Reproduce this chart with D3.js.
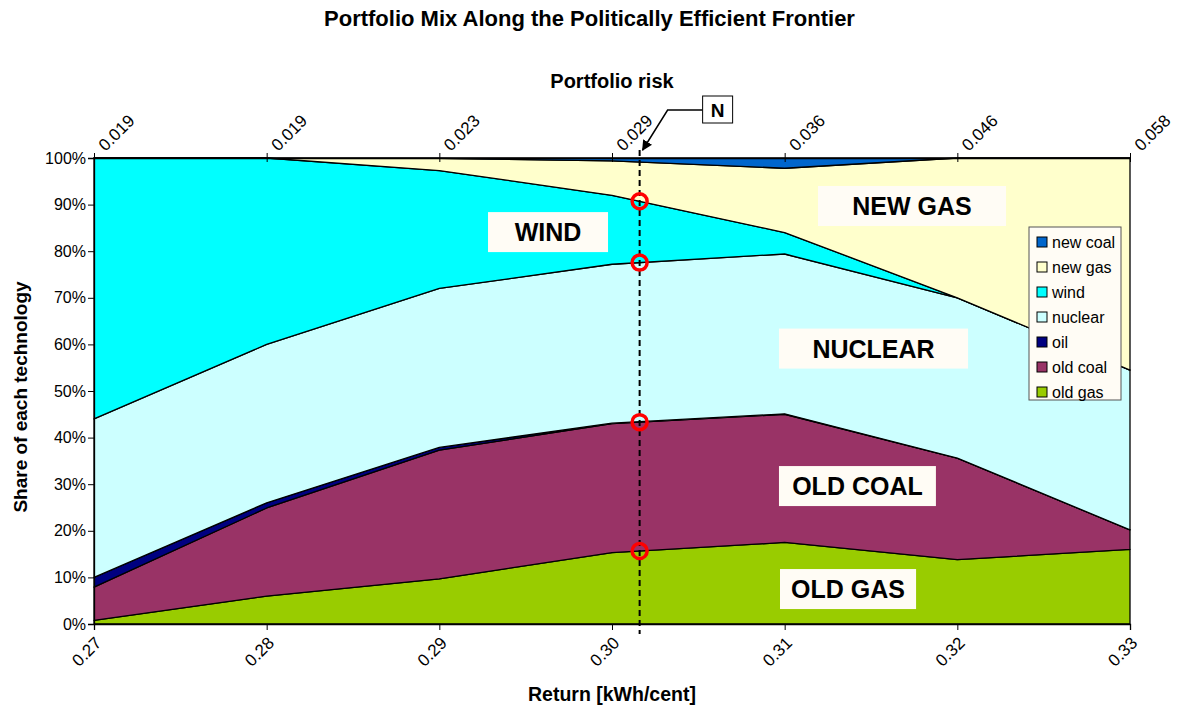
<!DOCTYPE html>
<html>
<head>
<meta charset="utf-8">
<script src="https://cdn.jsdelivr.net/npm/d3@7"></script>
<style>
  body { margin: 0; background: #fff; }
  svg { display: block; font-family: "Liberation Sans", Arial, sans-serif; }
</style>
</head>
<body>
<svg id="svg" width="1179" height="708"></svg>
<script>
// data (shares in %)
var returns = [0.27, 0.28, 0.29, 0.30, 0.31, 0.32, 0.33];
var riskLabels = ['0.019', '0.019', '0.023', '0.029', '0.036', '0.046', '0.058'];
var oldGas  = [0.8, 6.0, 9.7, 15.3, 17.5, 13.8, 16.0];
var oldCoal = [7.1, 18.9, 27.6, 27.7, 27.5, 21.8, 4.2];
var oil     = [2.1, 1.1, 0.6, 0.1, 0.1, 0.0, 0.0];
var nuclear = [34.0, 34.0, 34.1, 34.1, 34.3, 34.4, 34.3];
var wind    = [56.0, 40.0, 25.3, 14.8, 4.6, 0.0, 0.0];
var newGas  = [0.0, 0.0, 2.6, 7.4, 13.8, 30.0, 45.5];
var newCoal = [0.0, 0.0, 0.1, 0.6, 2.2, 0.0, 0.0];
var yTicks = [0, 10, 20, 30, 40, 50, 60, 70, 80, 90, 100];

var seriesNames = ['old gas', 'old coal', 'oil', 'nuclear', 'wind', 'new gas', 'new coal'];
var seriesColors = ['#99cc00', '#993366', '#000080', '#ccffff', '#00ffff', '#ffffcc', '#0066cc'];
var seriesValues = [oldGas, oldCoal, oil, nuclear, wind, newGas, newCoal];

// point N on the frontier
var nReturn = 0.3016;

// big labels on the areas: text, return range of the box, share at box middle
var areaLabels = [
    {text: 'WIND', x0: 0.29282, x1: 0.29977, y: 84.1},
    {text: 'NEW GAS', x0: 0.31193, x1: 0.32282, y: 89.7},
    {text: 'NUCLEAR', x0: 0.30967, x1: 0.32062, y: 59.1},
    {text: 'OLD COAL', x0: 0.30967, x1: 0.31876, y: 29.6},
    {text: 'OLD GAS', x0: 0.30973, x1: 0.31761, y: 7.5}
];

var width = 1179, height = 708;
var pLeft = 94, pRight = 1130, pTop = 158, pBottom = 624;

var svg = d3.select('svg');

var table = returns.map(function (r, i) {
    var row = {ret: r};
    seriesNames.forEach(function (n, j) { row[n] = seriesValues[j][i]; });
    return row;
});

var layers = d3.stack().keys(seriesNames)(table);

var x = d3.scaleLinear().domain([0.27, 0.33]).range([pLeft, pRight]);
var y = d3.scaleLinear().domain([0, 100]).range([pBottom, pTop]);

var area = d3.area()
    .x(function (d) { return x(d.data.ret); })
    .y0(function (d) { return y(d[0]); })
    .y1(function (d) { return y(d[1]); });

svg.append('g').selectAll('path')
    .data(layers)
    .enter()
    .append('path')
    .attr('d', area)
    .attr('fill', function (d, i) { return seriesColors[i]; })
    .attr('stroke', 'black')
    .attr('stroke-width', 1.3)
    .attr('stroke-linejoin', 'round');

// axes
var yAxis = d3.axisLeft(y).tickValues(yTicks).tickSize(6).tickFormat(function (d) { return d + '%'; });
var gy = svg.append('g').attr('transform', 'translate(' + pLeft + ',0)').call(yAxis);
gy.selectAll('text').attr('font-size', 16).attr('fill', '#000').attr('x', -8);
gy.select('.domain').attr('stroke', '#000').attr('stroke-width', 1.3);

var xAxis = d3.axisBottom(x).tickValues(returns).tickSize(6).tickFormat(d3.format('.2f'));
var gx = svg.append('g').attr('transform', 'translate(0,' + pBottom + ')').call(xAxis);
gx.select('.domain').attr('stroke', '#000').attr('stroke-width', 1.3);
gx.selectAll('text')
    .attr('font-size', 17)
    .attr('fill', '#000')
    .attr('text-anchor', 'end')
    .attr('dy', 0)
    .attr('y', 0)
    .attr('transform', 'translate(8,20) rotate(-45)');

var xTop = d3.axisTop(x).tickValues(returns).tickSizeInner(5).tickSizeOuter(0)
    .tickFormat(function (d, i) { return riskLabels[i]; });
var gt = svg.append('g').attr('transform', 'translate(0,' + pTop + ')').call(xTop);
gt.select('.domain').attr('stroke', '#000').attr('stroke-width', 1.3);
gt.selectAll('.tick line').attr('y2', -5).attr('y1', 4);
gt.selectAll('text')
    .attr('font-size', 17)
    .attr('fill', '#000')
    .attr('text-anchor', 'start')
    .attr('dy', 0)
    .attr('y', 0)
    .attr('transform', 'translate(11,-6) rotate(-45)');

// titles
svg.append('text').text('Portfolio Mix Along the Politically Efficient Frontier')
    .attr('x', width / 2).attr('y', 26)
    .attr('text-anchor', 'middle').attr('font-weight', 'bold').attr('font-size', 22);

svg.append('text').text('Portfolio risk')
    .attr('x', (pLeft + pRight) / 2).attr('y', 88)
    .attr('text-anchor', 'middle').attr('font-weight', 'bold').attr('font-size', 20);

svg.append('text').text('Return [kWh/cent]')
    .attr('x', (pLeft + pRight) / 2).attr('y', 701)
    .attr('text-anchor', 'middle').attr('font-weight', 'bold').attr('font-size', 19.5);

svg.append('text').text('Share of each technology')
    .attr('transform', 'translate(27,' + ((pTop + pBottom) / 2 + 6) + ') rotate(-90)')
    .attr('text-anchor', 'middle').attr('font-weight', 'bold').attr('font-size', 19);

// area labels
areaLabels.forEach(function (l) {
    var g = svg.append('g');
    var cy = y(l.y);
    g.append('rect')
        .attr('x', x(l.x0)).attr('y', cy - 20)
        .attr('width', x(l.x1) - x(l.x0)).attr('height', 40)
        .attr('fill', '#fffcf5');
    g.append('text').text(l.text)
        .attr('x', (x(l.x0) + x(l.x1)) / 2).attr('y', cy + 9)
        .attr('text-anchor', 'middle').attr('font-weight', 'bold').attr('font-size', 25);
});

// N line
var xn = x(nReturn);
svg.append('line')
    .attr('x1', xn).attr('x2', xn).attr('y1', 150).attr('y2', 634)
    .attr('stroke', 'black').attr('stroke-width', 2).attr('stroke-dasharray', '6,4');

// circles on the boundaries at N
var nTops = [0, 1, 3, 4].map(function (k) {
    var i = d3.bisectRight(returns, nReturn) - 1;
    var t = (nReturn - returns[i]) / (returns[i + 1] - returns[i]);
    return layers[k][i][1] + t * (layers[k][i + 1][1] - layers[k][i][1]);
});
svg.selectAll('circle.n')
    .data(nTops)
    .enter()
    .append('circle')
    .attr('class', 'n')
    .attr('cx', xn)
    .attr('cy', function (d) { return y(d); })
    .attr('r', 7.5)
    .attr('fill', 'none')
    .attr('stroke', '#ff0000')
    .attr('stroke-width', 3.5);

// N callout
svg.append('defs').append('marker')
    .attr('id', 'arr').attr('viewBox', '0 0 10 10').attr('refX', 9).attr('refY', 5)
    .attr('markerWidth', 7).attr('markerHeight', 7).attr('orient', 'auto')
    .append('path').attr('d', 'M0,0 L10,5 L0,10 z').attr('fill', 'black');
svg.append('path')
    .attr('d', 'M' + (xn + 63) + ',110 L' + (xn + 28) + ',110 L' + (xn + 3) + ',150')
    .attr('fill', 'none').attr('stroke', 'black').attr('stroke-width', 1.5)
    .attr('marker-end', 'url(#arr)');
svg.append('rect')
    .attr('x', xn + 63).attr('y', 96).attr('width', 30).attr('height', 27)
    .attr('fill', 'white').attr('stroke', 'black').attr('stroke-width', 1);
svg.append('text').text('N')
    .attr('x', xn + 78).attr('y', 117)
    .attr('text-anchor', 'middle').attr('font-weight', 'bold').attr('font-size', 19);

// legend
var legend = svg.append('g').attr('transform', 'translate(1029,227)');
legend.append('rect')
    .attr('width', 92).attr('height', 173)
    .attr('fill', '#fffcf5').attr('stroke', '#555').attr('stroke-width', 1);
var legendOrder = seriesNames.slice().reverse();
var items = legend.selectAll('g.item')
    .data(legendOrder)
    .enter()
    .append('g')
    .attr('class', 'item')
    .attr('transform', function (d, i) { return 'translate(8,' + (10 + i * 25) + ')'; });
items.append('rect')
    .attr('width', 10).attr('height', 10)
    .attr('fill', function (d) { return seriesColors[seriesNames.indexOf(d)]; })
    .attr('stroke', 'black').attr('stroke-width', 1);
items.append('text').text(function (d) { return d; })
    .attr('x', 15).attr('y', 11)
    .attr('font-size', 16);
</script>
</body>
</html>
